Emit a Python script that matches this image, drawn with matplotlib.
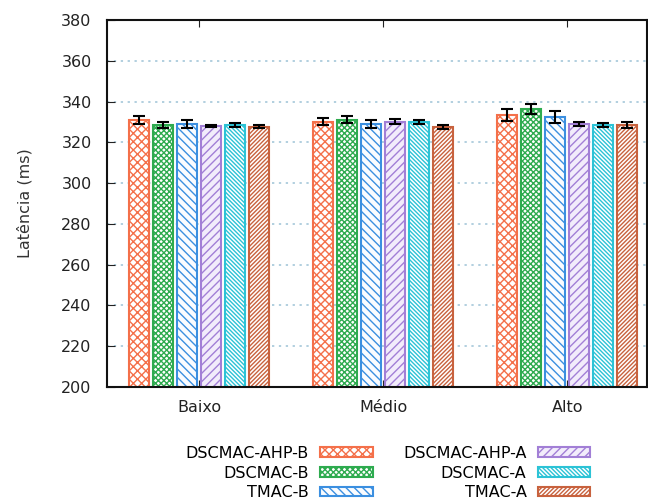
import matplotlib
matplotlib.use("Agg")
import matplotlib.pyplot as plt
import numpy as np

groups = ["Baixo", "Médio", "Alto"]
series = ["DSCMAC-AHP-B", "DSCMAC-B", "TMAC-B", "DSCMAC-AHP-A", "DSCMAC-A", "TMAC-A"]

# latency means (ms) per series, one value per group
ahp_b = [331.0, 330.2, 333.4]
dsc_b = [328.6, 331.2, 336.2]
tmac_b = [329.2, 329.0, 332.4]
ahp_a = [328.0, 330.1, 329.0]
dsc_a = [328.6, 330.2, 328.5]
tmac_a = [327.7, 327.7, 328.4]

# error bar half-widths
ahp_b_err = [1.8, 1.8, 2.8]
dsc_b_err = [1.4, 1.8, 2.4]
tmac_b_err = [2.0, 2.2, 3.0]
ahp_a_err = [0.7, 1.3, 1.2]
dsc_a_err = [1.0, 1.0, 1.0]
tmac_a_err = [0.8, 1.0, 1.4]

values = [ahp_b, dsc_b, tmac_b, ahp_a, dsc_a, tmac_a]
errors = [ahp_b_err, dsc_b_err, tmac_b_err, ahp_a_err, dsc_a_err, tmac_a_err]

edge = ["#f4704a", "#2eab4f", "#3b8fe0", "#a27fd6", "#2cc3d6", "#c8623e"]
face = ["#ffffff", "#ffffff", "#fafcff", "#f2ecfb", "#ffffff", "#ffffff"]
hatch = ["xxxx", "xxxxxx", "\\\\\\\\", "////", "\\\\\\\\\\\\\\\\", "////////"]

plt.rcParams["font.family"] = ["DejaVu Sans"]
plt.rcParams["hatch.linewidth"] = 1.0

fig = plt.figure(figsize=(6.48, 5.03), dpi=100)
ax = fig.add_axes([0.165, 0.2306, 0.834, 0.7296])

x = np.arange(len(groups))
w = 0.108
step = 0.13
for i in range(len(series)):
    off = (i - 2.5) * step
    ax.bar(x + off, values[i], w, bottom=0, color=face[i], edgecolor=edge[i],
           hatch=hatch[i], linewidth=1.5, label=series[i], zorder=2)
    ax.errorbar(x + off, values[i], yerr=errors[i], fmt="none", ecolor="black",
                elinewidth=1.5, capsize=4, capthick=1.5, zorder=3)

ax.set_ylim(200, 380)
ax.set_xlim(-0.5, 2.435)
ax.set_yticks(np.arange(200, 381, 20))
ax.set_xticks(x)
ax.set_xticklabels(groups)
ax.yaxis.grid(True, linestyle=(0, (1.5, 3)), color="#9cc2d6", linewidth=1.1, zorder=0)
ax.set_axisbelow(True)

ax.tick_params(axis="y", direction="in", length=6, pad=11, labelsize=11.5, colors="#222222")
ax.tick_params(axis="x", direction="in", length=5, pad=9, labelsize=11.5, top=True, colors="#222222")
for s in ax.spines.values():
    s.set_linewidth(1.5)
    s.set_color("#111111")

ax.set_ylabel("Latência (ms)", fontsize=11.5, color="#333333")
ax.yaxis.set_label_coords(-0.137, 0.5)

fig.legend(loc="center", bbox_to_anchor=(388 / 648, 1 - 473 / 503), ncol=2,
           markerfirst=False, frameon=False, fontsize=11.5, handlelength=3.3,
           handleheight=0.55, handletextpad=0.7, columnspacing=1.9, labelspacing=0.3)

fig.savefig("out.png", dpi=100)
